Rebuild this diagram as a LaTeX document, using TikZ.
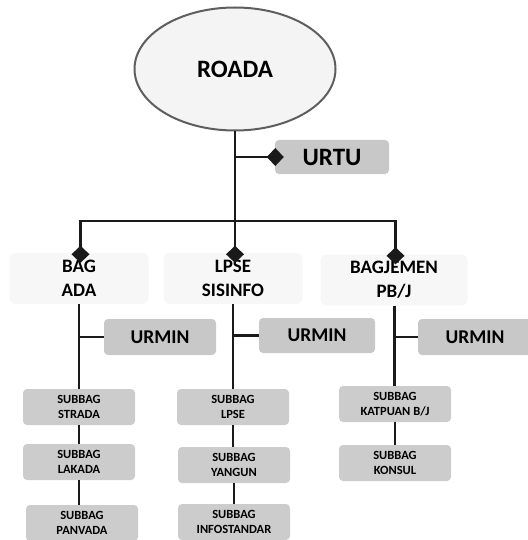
\documentclass[tikz,border=0pt]{standalone}
\usepackage{fontspec}
\setmainfont{Carlito}
\usetikzlibrary{shapes.geometric,arrows.meta}

\definecolor{linegray}{HTML}{1A1A1A}
\definecolor{rimgray}{HTML}{5E5E5E}
\definecolor{headfill}{HTML}{F4F4F4}
\definecolor{deptfill}{HTML}{F7F7F7}
\definecolor{stafffill}{HTML}{C8C8C8}
\definecolor{subfill}{HTML}{CCCCCC}

\begin{document}
\begin{tikzpicture}[x=1pt,y=-1pt,
    every node/.style={inner sep=0pt,text=black,align=center},
    head/.style={ellipse,draw=rimgray,line width=2pt,fill=headfill,
      minimum width=201pt,minimum height=123pt,
      font=\fontsize{25}{30}\bfseries\selectfont},
    staff/.style={rectangle,rounded corners=4pt,fill=stafffill,
      minimum width=112pt,minimum height=36pt,
      font=\fontsize{19.5}{24}\bfseries\selectfont},
    dept/.style={rectangle,rounded corners=6pt,fill=deptfill,
      minimum width=139pt,minimum height=51pt,
      font=\fontsize{19}{24}\bfseries\selectfont},
    sub/.style={rectangle,rounded corners=4pt,fill=subfill,
      minimum width=112pt,minimum height=36pt,
      font=\fontsize{12.5}{15}\bfseries\selectfont},
    link/.style={draw=linegray,line width=2.6pt},
    tip/.style={link,-{Diamond[length=17pt,width=18pt]}}]

    \useasboundingbox (0,0) rectangle (527,540);

    % Top of the chart
    \node[head] (roada) at (235,69) {ROADA};
    \node[staff,minimum width=114pt,minimum height=34pt,
      font=\fontsize{25}{30}\bfseries\selectfont] (urtu) at (332,157) {URTU};

    % Departments
    \node[dept] (bagada) at (79,278.5) {BAG\\ADA};
    \node[dept] (lpse) at (233,278.5) {LPSE\\SISINFO};
    \node[dept,minimum width=147pt] (bagjemen) at (394,280) {BAGJEMEN\\PB/J};

    % Admin units
    \node[staff] (urmin1) at (160,337) {URMIN};
    \node[staff,minimum width=116pt,minimum height=35pt] (urmin2) at (317,335.5) {URMIN};
    \node[staff,minimum width=114pt] (urmin3) at (475,337) {URMIN};

    % Sub-sections
    \node[sub] (strada) at (79,407) {SUBBAG\\STRADA};
    \node[sub] (lakada) at (79,462) {SUBBAG\\LAKADA};
    \node[sub] (panvada) at (82,523) {SUBBAG\\PANVADA};

    \node[sub] (sublpse) at (233,407) {SUBBAG\\LPSE};
    \node[sub] (yangun) at (234,465) {SUBBAG\\YANGUN};
    \node[sub] (infostd) at (234,522) {SUBBAG\\INFOSTANDAR};

    \node[sub] (katpuan) at (395,404) {SUBBAG\\KATPUAN B/J};
    \node[sub] (konsul) at (395,463) {SUBBAG\\KONSUL};

    % Junctions
    \coordinate (bus)  at (235,221);
    \coordinate (busL) at (80.5,221);
    \coordinate (busR) at (395.5,221);
    \coordinate (jt)   at (235,157);
    \coordinate (m1)   at (79,337);
    \coordinate (m2)   at (233,335.5);
    \coordinate (m3)   at (394.5,337);

    % Stem and bus
    \draw[link] (roada.south) -- (bus);
    \draw[link,line cap=rect] (busL) -- (busR);
    \draw[tip,shorten >=-9pt] (jt) -- (urtu.west);

    % Bus down to departments
    \draw[tip,shorten >=-10pt] (busL) -- (busL |- bagada.north);
    \draw[tip,shorten >=-10pt] (bus) -- (bus |- lpse.north);
    \draw[tip,shorten >=-10pt] (busR) -- (busR |- bagjemen.north);

    % Department columns
    \draw[link] (bagada.south) -- (strada.north);
    \draw[link] (strada) -- (lakada);
    \draw[link] (lakada.south) -- (lakada.south |- panvada.north);
    \draw[link] (lpse.south) -- (sublpse.north);
    \draw[link] (sublpse.south) -- (sublpse.south |- yangun.north);
    \draw[link] (yangun) -- (infostd);
    \draw[link] (bagjemen.south -| m3) -- (m3 |- katpuan.north);
    \draw[link] (katpuan) -- (konsul);

    % Admin branches
    \draw[link] (m1) -- (urmin1.west);
    \draw[link] (m2) -- (urmin2.west);
    \draw[link] (m3) -- (urmin3.west);

  \end{tikzpicture}
\end{document}
